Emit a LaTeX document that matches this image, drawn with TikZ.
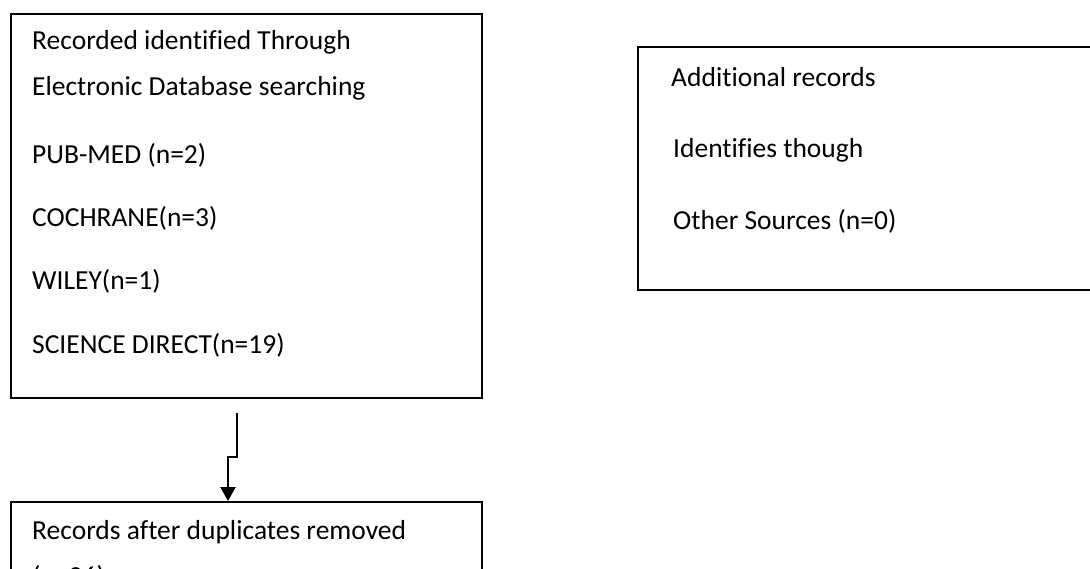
\documentclass[tikz,border=0pt]{standalone}
\usepackage{fontspec}
\setmainfont[Ligatures=NoCommon]{Carlito}
\usetikzlibrary{arrows.meta}
\tikzset{
  box/.style={draw=black, line width=1.6pt, rectangle, inner sep=0pt, anchor=north west},
  txt/.style={anchor=base west, inner sep=0pt, font=\fontsize{27.5}{33}\selectfont},
  flow/.style={line width=2.4pt, -{Triangle[length=14pt,width=15pt]}}
}
\begin{document}
\begin{tikzpicture}[x=1pt,y=-1pt]
\useasboundingbox (0,0) rectangle (1090,569);
\begin{scope}
\clip (0,0) rectangle (1090,569);
% boxes
\node[box, minimum width=471pt, minimum height=384pt] (src) at (10,13) {};
\node[box, minimum width=470pt, minimum height=243pt] (other) at (637,46) {};
\node[box, minimum width=471pt, minimum height=120pt] (dup) at (10,501) {};
% texts in first box
\node[txt] (t1) at (32,50) {Recorded identified Through};
\node[txt] (t2) at (32,96) {Electronic Database searching};
\node[txt] (t3) at (32,164) {PUB-MED (n=2)};
\node[txt] (t4) at (32,227) {COCHRANE(n=3)};
\node[txt] (t5) at (32,290) {WILEY(n=1)};
\node[txt] (t6) at (32,354) {SCIENCE DIRECT(n=19)};
% texts in second box
\node[txt] (u1) at (671,87) {Additional records};
\node[txt] (u2) at (673,158) {Identifies though};
\node[txt] (u3) at (673,230) {Other Sources (n=0)};
% texts in third box
\node[txt] (v1) at (32,539) {Records after duplicates removed};
\node[txt] (v2) at (32,585) {(n=26)};
\end{scope}
% connector
\coordinate (a0) at (237,413);
\coordinate (a1) at (237,457);
\coordinate (a2) at (228,457);
\draw[flow] (a0) -- (a1) -- (a2) -- (a2 |- dup.north);
\end{tikzpicture}
\end{document}
